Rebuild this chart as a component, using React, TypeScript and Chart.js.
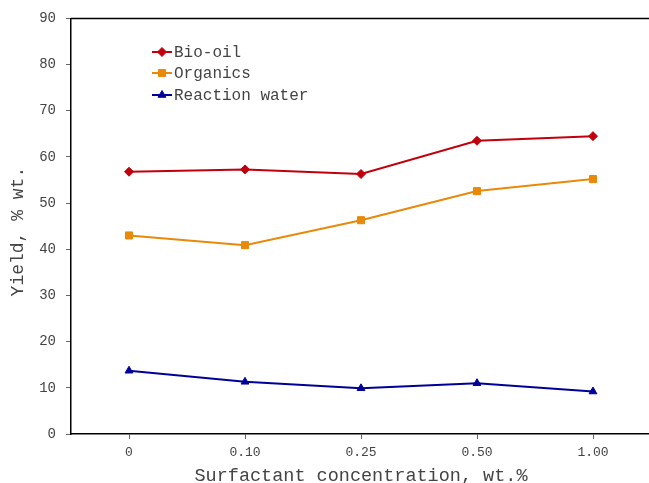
import React, { useEffect, useRef } from "react";
import { Chart, registerables } from "chart.js";

Chart.register(...registerables);

const categories = ["0", "0.10", "0.25", "0.50", "1.00"];
const bioOil = [56.8, 57.3, 56.3, 63.5, 64.5];
const organics = [43.0, 40.9, 46.3, 52.6, 55.2];
const reactionWater = [13.7, 11.3, 9.9, 11.0, 9.2];
const seriesNames = ["Bio-oil", "Organics", "Reaction water"];

const FONT = "'Liberation Mono', 'Courier New', monospace";
const TEXT = "#444444";

function drawMarker(ctx: CanvasRenderingContext2D, style: string, r: number, x: number, y: number, color: string) {
  ctx.fillStyle = color;
  ctx.strokeStyle = color;
  ctx.lineWidth = 1;
  ctx.beginPath();
  if (style === "rectRot") {
    ctx.moveTo(x, y - r);
    ctx.lineTo(x + r, y);
    ctx.lineTo(x, y + r);
    ctx.lineTo(x - r, y);
  } else if (style === "rect") {
    const s = Math.SQRT1_2 * r;
    ctx.rect(x - s, y - s, 2 * s, 2 * s);
  } else {
    const c = Math.cos(Math.PI / 6);
    ctx.moveTo(x, y - r);
    ctx.lineTo(x + r * c, y + r * 0.5);
    ctx.lineTo(x - r * c, y + r * 0.5);
  }
  ctx.closePath();
  ctx.fill();
  ctx.stroke();
}

const boxAndLegend = {
  id: "boxAndLegend",
  afterDraw(chart: any) {
    const { ctx, chartArea } = chart;
    ctx.save();
    ctx.strokeStyle = "#000";
    ctx.lineWidth = 1.5;
    ctx.beginPath();
    ctx.moveTo(chartArea.left, chartArea.top);
    ctx.lineTo(chartArea.right + 10, chartArea.top);
    ctx.stroke();

    const lx = 152;
    const ys = [52, 73, 95];
    chart.data.datasets.forEach((ds: any, i: number) => {
      const y = ys[i];
      ctx.strokeStyle = ds.borderColor;
      ctx.lineWidth = 2;
      ctx.beginPath();
      ctx.moveTo(lx, y);
      ctx.lineTo(lx + 20, y);
      ctx.stroke();
      drawMarker(ctx, ds.pointStyle, ds.pointRadius, lx + 10, y, ds.pointBackgroundColor);
      ctx.fillStyle = TEXT;
      ctx.font = "16px " + FONT;
      ctx.textBaseline = "middle";
      ctx.textAlign = "left";
      ctx.fillText(ds.label, lx + 22, y + 1);
    });
    ctx.restore();
  },
};

export default function App() {
  const ref = useRef<HTMLCanvasElement | null>(null);
  useEffect(() => {
    document.body.style.margin = "0";
    document.body.style.overflow = "hidden";
    const colors = ["#c0000c", "#e8890a", "#000098"];
    const styles = ["rectRot", "rect", "triangle"];
    const radii = [4.5, 5, 4.5];
    const values = [bioOil, organics, reactionWater];
    const chart = new Chart(ref.current!, {
      type: "line",
      data: {
        labels: categories,
        datasets: values.map((v, i) => ({
          label: seriesNames[i],
          data: v,
          borderColor: colors[i],
          backgroundColor: colors[i],
          pointBackgroundColor: colors[i],
          pointBorderColor: colors[i],
          pointStyle: styles[i] as any,
          pointRadius: radii[i],
          pointBorderWidth: 1,
          borderWidth: 2,
          tension: 0,
        })),
      },
      options: {
        animation: false,
        responsive: false,
        layout: { padding: { top: 17, right: 9, left: 0, bottom: 0 } },
        plugins: { legend: { display: false }, tooltip: { enabled: false } },
        scales: {
          x: {
            offset: true,
            border: { display: true, color: "#000", width: 1.5 },
            grid: { display: true, drawOnChartArea: false, offset: false, tickLength: 5, color: "#666" },
            ticks: { color: TEXT, font: { family: FONT, size: 13 }, padding: 6, maxRotation: 0 },
            title: { display: true, text: "Surfactant concentration, wt.%", color: TEXT, font: { family: FONT, size: 18.5 }, padding: { top: 0, bottom: -4 } },
            afterFit: (s: any) => { s.height = 49; },
          },
          y: {
            min: 0,
            max: 90,
            border: { display: true, color: "#000", width: 1.5 },
            grid: { display: true, drawOnChartArea: false, tickLength: 5, color: "#666" },
            ticks: { stepSize: 10, color: TEXT, font: { family: FONT, size: 14 }, padding: 10 },
            title: { display: true, text: "Yield, % wt. ", color: TEXT, font: { family: FONT, size: 18 }, padding: { top: 7, bottom: 0 } },
            afterFit: (s: any) => { s.width = 71; },
          },
        },
      },
      plugins: [boxAndLegend],
    });
    return () => chart.destroy();
  }, []);
  return (
    <div style={{ position: "absolute", left: 0, top: 0, width: 649, height: 483, overflow: "hidden", background: "#fff" }}>
      <canvas ref={ref} width={660} height={483} style={{ display: "block", width: 660, height: 483 }} />
    </div>
  );
}
